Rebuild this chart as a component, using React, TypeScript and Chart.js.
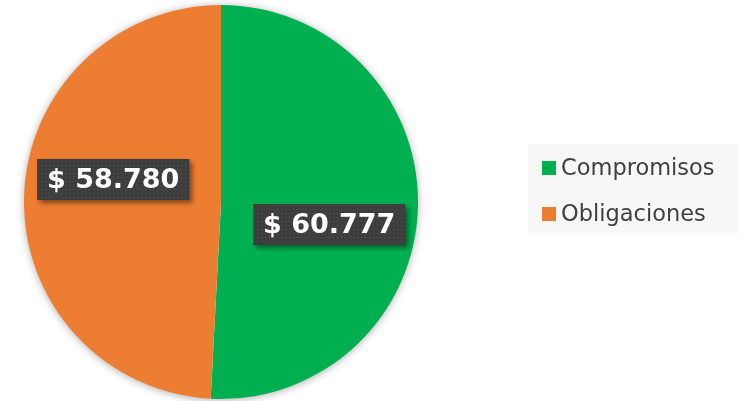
import React, { useEffect, useRef } from "react";
import { Chart, registerables } from "chart.js";

Chart.register(...registerables);

const categories = ["Compromisos", "Obligaciones"];
const values = [60777, 58780];
const colors = ["#00B050", "#ED7D31"];

function fmt(n: number): string {
  const s = Math.round(n).toString();
  return "$ " + s.replace(/\B(?=(\d{3})+(?!\d))/g, ".");
}

function makePattern(ctx: CanvasRenderingContext2D) {
  const c = document.createElement("canvas");
  c.width = 4;
  c.height = 4;
  const p = c.getContext("2d")!;
  p.fillStyle = "#3d3d3d";
  p.fillRect(0, 0, 4, 4);
  p.fillStyle = "#585858";
  p.fillRect(1, 1, 1, 1);
  return ctx.createPattern(c, "repeat");
}

const shadowPlugin = {
  id: "pieShadow",
  beforeDatasetsDraw(chart: any) {
    const arc = chart.getDatasetMeta(0).data[0];
    if (!arc) return;
    const { x, y, outerRadius } = arc.getProps(["x", "y", "outerRadius"], true);
    const ctx = chart.ctx;
    ctx.save();
    ctx.shadowColor = "rgba(0,0,0,0.35)";
    ctx.shadowBlur = 8;
    ctx.shadowOffsetX = 0;
    ctx.shadowOffsetY = 1;
    ctx.fillStyle = "#ffffff";
    ctx.beginPath();
    ctx.arc(x, y, outerRadius - 0.5, 0, Math.PI * 2);
    ctx.fill();
    ctx.restore();
  },
};

const labelPlugin = {
  id: "valueLabels",
  afterDatasetsDraw(chart: any) {
    const ctx: CanvasRenderingContext2D = chart.ctx;
    const meta = chart.getDatasetMeta(0);
    const data = chart.data.datasets[0].data as number[];
    const pattern = makePattern(ctx);
    meta.data.forEach((arc: any, i: number) => {
      const { x, y, startAngle, endAngle, outerRadius } = arc.getProps(
        ["x", "y", "startAngle", "endAngle", "outerRadius"],
        true
      );
      const mid = (startAngle + endAngle) / 2 + (10.5 * Math.PI) / 180;
      const r = outerRadius * 0.56;
      const cx = x + Math.cos(mid) * r;
      const cy = y + Math.sin(mid) * r;
      const text = fmt(data[i]);
      ctx.save();
      ctx.font = "bold 27px 'DejaVu Sans'";
      const tw = ctx.measureText(text).width;
      const w = tw + 20;
      const h = 41;
      const bx = Math.round(cx - w / 2);
      const by = Math.round(cy - h / 2);
      ctx.shadowColor = "rgba(0,0,0,0.45)";
      ctx.shadowBlur = 5;
      ctx.shadowOffsetX = 3;
      ctx.shadowOffsetY = 3;
      ctx.fillStyle = pattern || "#3d3d3d";
      ctx.fillRect(bx, by, w, h);
      ctx.shadowColor = "transparent";
      ctx.fillStyle = "#ffffff";
      ctx.textAlign = "center";
      ctx.textBaseline = "middle";
      ctx.fillText(text, bx + w / 2, by + h / 2 + 1);
      ctx.restore();
    });
  },
};

const legendPlugin = {
  id: "sideLegend",
  afterDraw(chart: any) {
    const ctx: CanvasRenderingContext2D = chart.ctx;
    const labels = chart.data.labels as string[];
    const bg = chart.data.datasets[0].backgroundColor as string[];
    ctx.save();
    ctx.fillStyle = "#f7f7f7";
    ctx.fillRect(528, 144, 210, 89);
    ctx.font = "22.5px 'DejaVu Sans'";
    ctx.textBaseline = "middle";
    ctx.textAlign = "left";
    labels.forEach((lab, i) => {
      const cy = 168 + i * 46;
      ctx.fillStyle = bg[i];
      ctx.fillRect(542, cy - 7, 14, 14);
      ctx.fillStyle = "#404040";
      ctx.fillText(lab, 561, cy + 1);
    });
    ctx.restore();
  },
};

export default function App() {
  const ref = useRef<HTMLCanvasElement>(null);
  useEffect(() => {
    if (!ref.current) return;
    const chart = new Chart(ref.current, {
      type: "pie",
      data: {
        labels: categories,
        datasets: [
          {
            data: values,
            backgroundColor: colors,
            borderWidth: 0,
            hoverOffset: 0,
          },
        ],
      },
      options: {
        responsive: false,
        animation: false,
        layout: { padding: { left: 24, right: 325, top: 5, bottom: 2 } },
        plugins: {
          legend: { display: false },
          tooltip: { enabled: false },
        },
      },
      plugins: [shadowPlugin, labelPlugin, legendPlugin],
    });
    return () => chart.destroy();
  }, []);
  return (
    <div style={{ position: "fixed", left: 0, top: 0, width: 743, height: 401, background: "#fff" }}>
      <canvas ref={ref} width={743} height={401} style={{ display: "block" }} />
    </div>
  );
}
